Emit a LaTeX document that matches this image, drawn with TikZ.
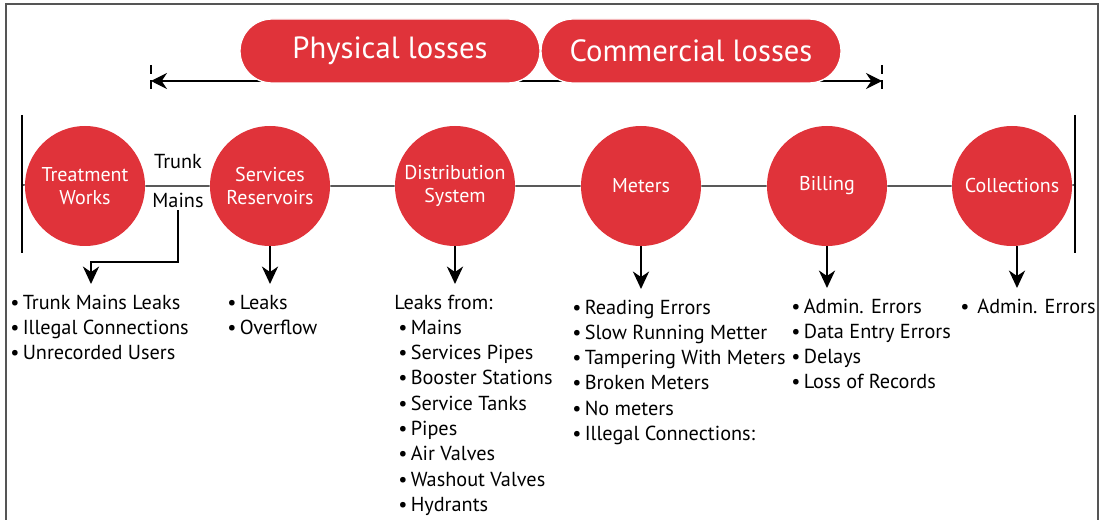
\documentclass[tikz,border=0pt]{standalone}
\usepackage{fontspec}
\setmainfont{PT Sans}
\usetikzlibrary{arrows.meta,calc}
\definecolor{lossred}{HTML}{E0333A}
\definecolor{framegray}{HTML}{555555}
\tikzstyle{stage}=[circle, fill=lossred, minimum size=90pt, inner sep=0pt, text=white, align=center, font=\fontsize{15}{17.5}\selectfont]
\tikzstyle{pill}=[rectangle, rounded corners=24pt, fill=lossred, draw=white, line width=1pt, minimum width=225pt, minimum height=48pt, text=white, font=\fontsize{23}{26}\selectfont]
\tikzstyle{item}=[anchor=base west, inner sep=0pt, font=\fontsize{15.2}{18}\selectfont]
\tikzstyle{pipe}=[line width=2.2pt, black]
\tikzstyle{outarrow}=[line width=2.1pt, -{Stealth[length=13pt,width=12pt,inset=4pt]}]
\tikzstyle{spanarrow}=[line width=1pt, {Stealth[length=12pt,width=12pt,inset=4pt]}-{Stealth[length=12pt,width=12pt,inset=4pt]}]
\tikzstyle{tickmark}=[line width=2.2pt, dash pattern=on 6.8pt off 4.5pt]
\newcommand{\itm}[1]{\textbullet\hspace{2.5pt}#1}

\begin{document}
\begin{tikzpicture}[x=0.75pt, y=-0.75pt]
	\useasboundingbox (0,0) rectangle (1102,520);
	\draw[framegray, line width=0.8pt] (6,520) -- (6,4) -- (1098,4) -- (1098,520);

	\coordinate (lossL) at (151,81);
	\coordinate (lossR) at (882,81);
	\draw[spanarrow] (lossL) -- (lossR);
	\draw[tickmark] ($(lossL)+(0,-16)$) -- ($(lossL)+(0,10)$);
	\draw[tickmark] ($(lossR)+(0,-16)$) -- ($(lossR)+(0,10)$);
	\node[pill] (phys) at (390,51) {Physical losses};
	\node[pill] (comm) at (691,51) {Commercial losses};

	\coordinate (lbar) at (22,185);
	\coordinate (rbar) at (1075,185);
	\draw[pipe] (22,115) -- (22,253);
	\draw[pipe] (1075,115) -- (1075,253);

	\node[stage] (tw) at (85,186) {Treatment\\Works};
	\node[stage] (sr) at (270,186) {Services\\Reservoirs};
	\node[stage] (ds) at (455,186) {Distribution\\System};
	\node[stage] (mt) at (641,186) {Meters};
	\node[stage] (bl) at (827,186) {Billing};
	\node[stage] (cl) at (1012,186) {Collections};
	\draw[line width=1pt] (lbar) -- (tw) -- (sr) -- (ds) -- (mt) -- (bl) -- (cl) -- (rbar);

	\node[font=\fontsize{15.2}{18}\selectfont] (trunk) at (178,162) {Trunk};
	\node[font=\fontsize{15.2}{18}\selectfont, inner sep=2pt] (mains) at (178,200) {Mains};

	\coordinate (tmbend) at (91,262);
	\coordinate (tmtip) at (91,284);
	\coordinate (srtip) at (270,284);
	\coordinate (dstip) at (455,284);
	\coordinate (mttip) at (641,289);
	\coordinate (bltip) at (827,288);
	\coordinate (cltip) at (1017,288);
	\draw[outarrow] (mains.south) |- (tmbend) -- (tmtip);
	\draw[outarrow] (sr) -- (srtip);
	\draw[outarrow] (ds) -- (dstip);
	\draw[outarrow] (mt) -- (mttip);
	\draw[outarrow] (bl) -- (bltip);
	\draw[outarrow] (cl.south -| cltip) -- (cltip);

	\foreach \t [count=\i from 0] in {Trunk Mains Leaks, Illegal Connections, Unrecorded Users}
		\node[item] (twl\i) at (10,{309+25.3*\i}) {\itm{\t}};
	\foreach \t [count=\i from 0] in {Leaks, Overflow}
		\node[item] (srl\i) at (227,{309+25.3*\i}) {\itm{\t}};
	\node[item] (dshead) at (394,309) {Leaks from:};
	\foreach \t [count=\i from 0] in {Mains, Services Pipes, Booster Stations, Service Tanks, Pipes, Air Valves, Washout Valves, Hydrants}
		\node[item] (dsl\i) at (398,{334.3+25.3*\i}) {\itm{\t}};
	\foreach \t [count=\i from 0] in {Reading Errors, Slow Running Metter, Tampering With Meters, Broken Meters, No meters, Illegal Connections:}
		\node[item] (mtl\i) at (572,{314+25.3*\i}) {\itm{\t}};
	\foreach \t [count=\i from 0] in {Admin. Errors, Data Entry Errors, Delays, Loss of Records}
		\node[item] (bll\i) at (791,{313+25.3*\i}) {\itm{\t}};
	\node[item] (cll0) at (960,313) {\textbullet\hspace{6pt}Admin. Errors};
\end{tikzpicture}
\end{document}
